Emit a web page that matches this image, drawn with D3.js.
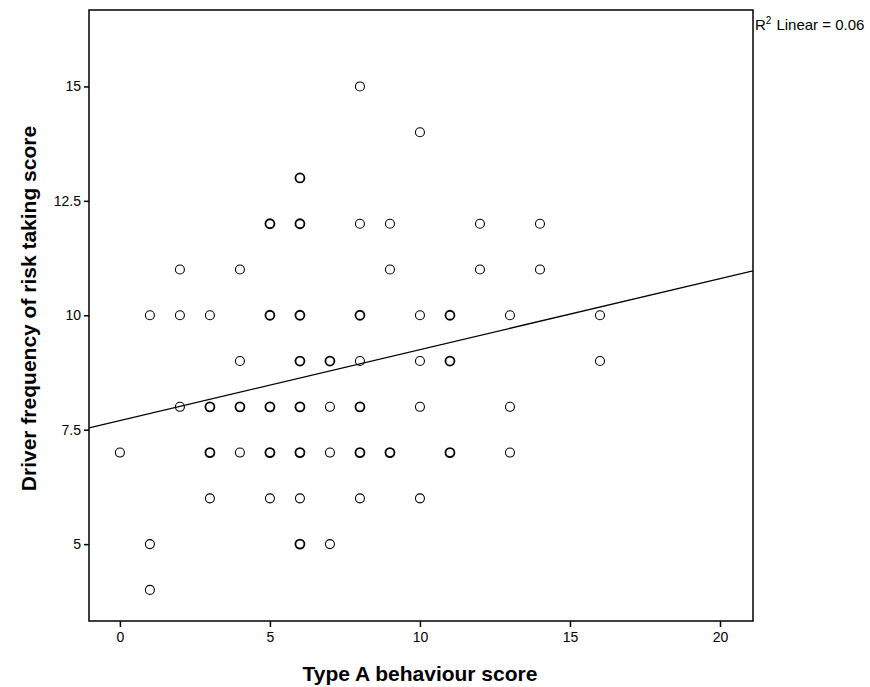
<!DOCTYPE html>
<html>
<head>
<meta charset="utf-8">
<script src="https://cdn.jsdelivr.net/npm/d3@7/dist/d3.min.js"></script>
<style>
  html, body { margin: 0; padding: 0; background: #fff; }
  svg { display: block; }
  text { font-family: "Liberation Sans", Arial, sans-serif; fill: #000; }
</style>
</head>
<body>
<svg id="chart" width="870" height="687"></svg>
<script>
// Data (x = Type A score, y = risk taking score, n = overlapping cases)
const typeAScore = [0, 1,1,1, 2,2,2, 3,3,3,3, 4,4,4,4, 5,5,5,5,5, 6,6,6,6,6,6,6,6, 7,7,7,7, 8,8,8,8,8,8,8, 9,9,9, 10,10,10,10,10, 11,11,11, 12,12, 13,13,13, 14,14, 16,16];
const riskScore  = [7, 10,5,4, 11,10,8, 10,8,7,6, 11,9,8,7, 12,10,8,7,6, 13,12,10,9,8,7,6,5, 9,8,7,5, 15,12,10,9,8,7,6, 12,11,7, 14,10,9,8,6, 10,9,7, 12,11, 10,8,7, 12,11, 10,9];
const caseCount  = [1, 1,1,1, 1,1,1, 1,2,2,1, 1,1,2,1, 2,2,2,2,1, 2,2,2,2,2,2,1,2, 2,1,1,1, 1,1,2,1,2,2,1, 1,1,2, 1,1,1,1,1, 2,2,2, 1,1, 1,1,1, 1,1, 1,1];

const xTicks = [0, 5, 10, 15, 20];
const yTicks = [5, 7.5, 10, 12.5, 15];
const xDomain = [-1.03, 21.1];
const yDomain = [3.32, 16.67];
const fitIntercept = 7.70;
const fitSlope = 0.155;
const r2Label = "0.06";
const xTitle = "Type A behaviour score";
const yTitle = "Driver frequency of risk taking score";

const points = typeAScore.map((x, i) => ({ x, y: riskScore[i], n: caseCount[i] }));

const svg = d3.select("#chart");
const m = { left: 89, top: 10, right: 117, bottom: 66 };
const W = 870 - m.left - m.right;
const H = 687 - m.top - m.bottom;

const x = d3.scaleLinear().domain(xDomain).range([0, W]);
const y = d3.scaleLinear().domain(yDomain).range([H, 0]);

const g = svg.append("g").attr("transform", `translate(${m.left},${m.top})`);

// Frame
g.append("rect").attr("x", 0).attr("y", 0).attr("width", W).attr("height", H)
  .attr("fill", "none").attr("stroke", "#000").attr("stroke-width", 1.5);

// Axes
const xAxis = g.append("g").attr("transform", `translate(0,${H})`)
  .call(d3.axisBottom(x).tickValues(xTicks).tickSize(6).tickPadding(5).tickFormat(d3.format("d")));
const yAxis = g.append("g")
  .call(d3.axisLeft(y).tickValues(yTicks).tickSize(5).tickPadding(3).tickFormat(d => String(d)));
[xAxis, yAxis].forEach(a => {
  a.select(".domain").remove();
  a.selectAll(".tick line").attr("stroke", "#000").attr("stroke-width", 1.5);
  a.selectAll(".tick text").attr("font-size", 14).attr("font-family", "Liberation Sans, Arial, sans-serif").attr("fill", "#000");
});

// Clip for fit line
svg.append("clipPath").attr("id", "plotclip").append("rect")
  .attr("x", 0).attr("y", 0).attr("width", W).attr("height", H);

// Fit line
const fitLine = d3.line().x(d => x(d)).y(d => y(fitIntercept + fitSlope * d));
g.append("path").datum(xDomain).attr("d", fitLine)
  .attr("clip-path", "url(#plotclip)")
  .attr("fill", "none").attr("stroke", "#000").attr("stroke-width", 1.3);

// Points
g.selectAll("circle.pt").data(points).enter().append("circle")
  .attr("class", "pt")
  .attr("cx", d => x(d.x)).attr("cy", d => y(d.y)).attr("r", 4.5)
  .attr("fill", "none").attr("stroke", "#000")
  .attr("stroke-width", d => d.n > 1 ? 1.8 : 1.1);

// R² label
const r2 = svg.append("text").attr("x", m.left + W + 2).attr("y", 30).attr("font-size", 15);
r2.append("tspan").text("R");
r2.append("tspan").attr("font-size", 10).attr("dy", -6).text("2");
r2.append("tspan").attr("dy", 6).attr("dx", 5).text("Linear = " + r2Label);

// Axis titles
svg.append("text").attr("x", m.left + x(10)).attr("y", 681)
  .attr("text-anchor", "middle").attr("font-size", 21).attr("font-weight", "bold").text(xTitle);
svg.append("text").attr("transform", `translate(36,${m.top + H / 2 - 7}) rotate(-90)`)
  .attr("text-anchor", "middle").attr("font-size", 21).attr("font-weight", "bold").text(yTitle);
</script>
</body>
</html>
